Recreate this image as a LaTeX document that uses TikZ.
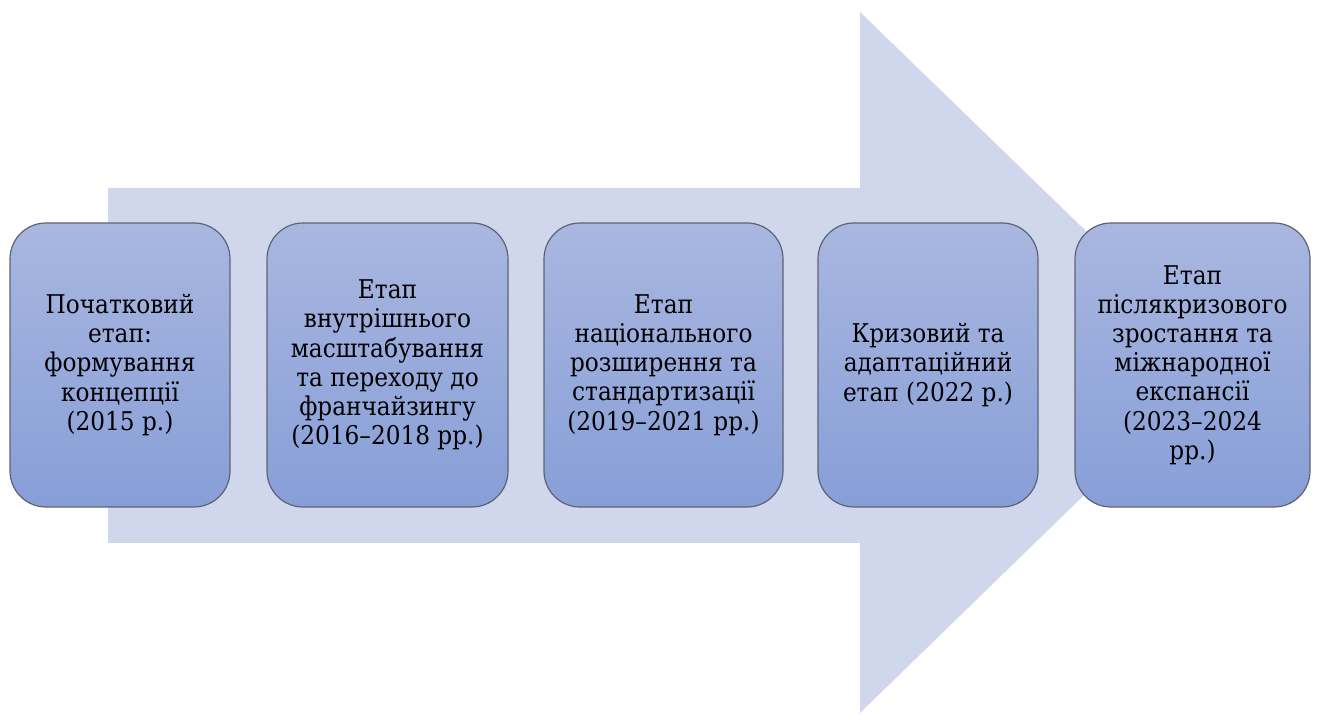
\documentclass[tikz,border=0pt]{standalone}
\usepackage{fontspec}
\setmainfont{DejaVu Serif Condensed}
\definecolor{arrowfill}{HTML}{D0D6EB}
\definecolor{stagetop}{HTML}{A9B7E0}
\definecolor{stagebot}{HTML}{879ED7}
\definecolor{stageline}{HTML}{5E6373}
\begin{document}
\begin{tikzpicture}[x=0.5pt,y=-0.5pt,
  stagebox/.style={rectangle, rounded corners=18pt, draw=stageline, line width=0.6pt,
    top color=stagetop, bottom color=stagebot, align=center, inner sep=0pt,
    minimum height=142pt, font=\fontsize{12.9}{14.6}\selectfont}]
\useasboundingbox (0,0) rectangle (1318,715);

% Big arrow
\fill[arrowfill] (108,188) -- (860,188) -- (860,12) -- (1221,362)
  -- (860,713) -- (860,543) -- (108,543) -- cycle;

% Stages
\node[stagebox, minimum width=110pt] (s1) at (120,365)
  {Початковий\\етап:\\формування\\концепції\\(2015 р.)};
\node[stagebox, minimum width=120.5pt] (s2) at (387.5,365)
  {Етап\\внутрішнього\\масштабування\\та переходу до\\франчайзингу\\(2016–2018 рр.)};
\node[stagebox, minimum width=119.5pt] (s3) at (663.5,365)
  {Етап\\національного\\розширення та\\стандартизації\\(2019–2021 рр.)};
\node[stagebox, minimum width=110pt] (s4) at (928,365)
  {Кризовий та\\адаптаційний\\етап (2022 р.)};
\node[stagebox, minimum width=117.5pt] (s5) at (1192.5,365)
  {Етап\\післякризового\\зростання та\\міжнародної\\експансії\\(2023–2024\\рр.)};
\end{tikzpicture}
\end{document}
